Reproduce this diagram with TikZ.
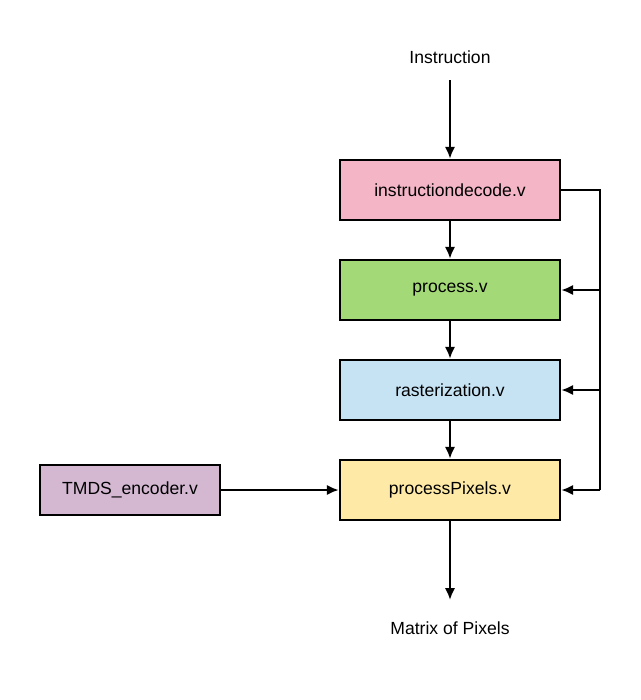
\documentclass[tikz,border=0pt]{standalone}
\usepackage{fontspec}
\setmainfont{Liberation Sans}
\usetikzlibrary{positioning,arrows.meta}
\definecolor{decodepink}{HTML}{F4B5C7}
\definecolor{processgreen}{HTML}{A4D977}
\definecolor{rasterblue}{HTML}{C6E3F4}
\definecolor{pixelyellow}{HTML}{FEEAA6}
\definecolor{tmdspurple}{HTML}{D4B8D2}

\begin{document}
\begin{tikzpicture}[x=0.02cm,y=-0.02cm,>={Latex[length=2.4mm,width=2.1mm]},
	modbox/.style={draw,line width=1.4pt,minimum width=4.4cm,minimum height=1.2cm,inner sep=0pt,font=\fontsize{10}{12}\selectfont},
	bus/.style={line width=1.4pt}]
			\useasboundingbox (0,0) rectangle (641,700);
			\node (instr) at (450,57) {\fontsize{10}{12}\selectfont Instruction};
			\node[modbox,fill=decodepink] (decode) at (450,190) {instructiondecode.v};
			\node[modbox,fill=processgreen] (process) at (450,290) {process.v};
			\node[modbox,fill=rasterblue] (raster) at (450,390) {rasterization.v};
			\node[modbox,fill=pixelyellow] (pixels) at (450,490) {processPixels.v};
			\node[modbox,fill=tmdspurple,minimum width=3.6cm,minimum height=1cm] (tmds) at (130,490) {TMDS\_encoder.v};
			\node (matrix) at (450,628) {\fontsize{10}{12}\selectfont Matrix of Pixels};
			\coordinate (top) at (450,80);
			\coordinate (out) at (450,600);
			\coordinate (bustop) at (600,190);
			\coordinate (busmid) at (600,290);
			\coordinate (buslow) at (600,390);
			\coordinate (busend) at (600,490);
			\draw[bus,->] (top) -- (decode);
			\draw[bus,->] (decode) -- (process);
			\draw[bus,->] (process) -- (raster);
			\draw[bus,->] (raster) -- (pixels);
			\draw[bus,->] (pixels) -- (out);
			\draw[bus,->] (tmds) -- (pixels);
			\draw[bus] (decode.east) -- (bustop) -- (busend);
			\draw[bus,->] (busmid) -- (process.east);
			\draw[bus,->] (buslow) -- (raster.east);
			\draw[bus,->] (busend) -- (pixels.east);
			\end{tikzpicture}
\end{document}
